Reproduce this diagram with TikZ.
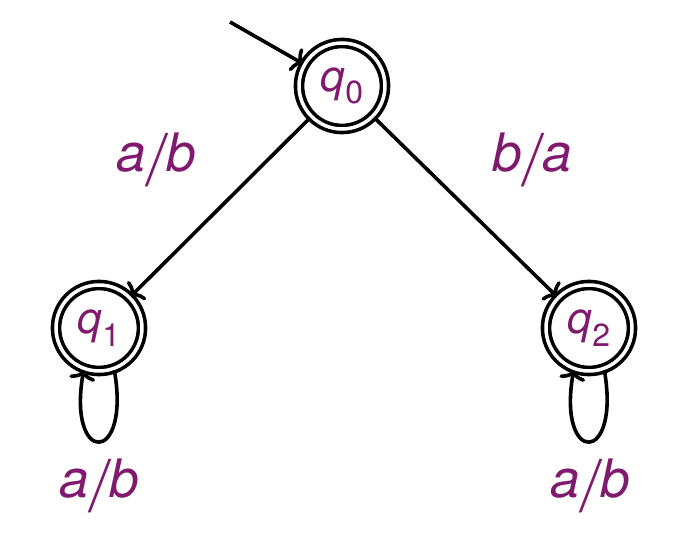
\documentclass[tikz,border=0pt]{standalone}
\usepackage{fontspec}
\setmainfont{TeX Gyre Heros}
\usetikzlibrary{arrows.meta}
\definecolor{lab}{RGB}{128,26,110}
\newcommand{\stname}[1]{{\itshape q}\raisebox{-0.28em}{\fontsize{32}{34}\selectfont #1}}
\newcommand{\slsh}{\kern3pt\raisebox{-0.26em}{\scalebox{1}[1.35]{/}}\kern3pt}
\begin{document}
\begin{tikzpicture}[x=1pt,y=-1pt,line width=3.6pt,>={To[length=10pt,width=26pt]},
  state/.style={circle,draw,double,double distance=3.5pt,minimum size=86pt,inner sep=0pt,
    text=lab,font=\fontsize{44}{48}\selectfont},
  lbl/.style={text=lab,font=\fontsize{53}{56}\selectfont\itshape}]
\useasboundingbox (0,0) rectangle (686,551);
\node[state] (q0) at (342,86) {\stname{0}};
\node[state] (q1) at (99,328) {\stname{1}};
\node[state] (q2) at (589,328) {\stname{2}};
\coordinate (s) at (230,22);
\draw[->] (s) -- (q0);
\draw[->] (q0) -- (q1);
\draw[->] (q0) -- (q2);
\draw[->] (q1.-70) .. controls +(80:97) and +(100:97) .. (q1.-110);
\draw[->] (q2.-70) .. controls +(80:97) and +(100:97) .. (q2.-110);
\node[lbl] (l1) at (156,160) {a\slsh b};
\node[lbl] (l2) at (532,160) {b\slsh a};
\node[lbl] (l3) at (99,486) {a\slsh b};
\node[lbl] (l4) at (590,486) {a\slsh b};
\end{tikzpicture}
\end{document}
